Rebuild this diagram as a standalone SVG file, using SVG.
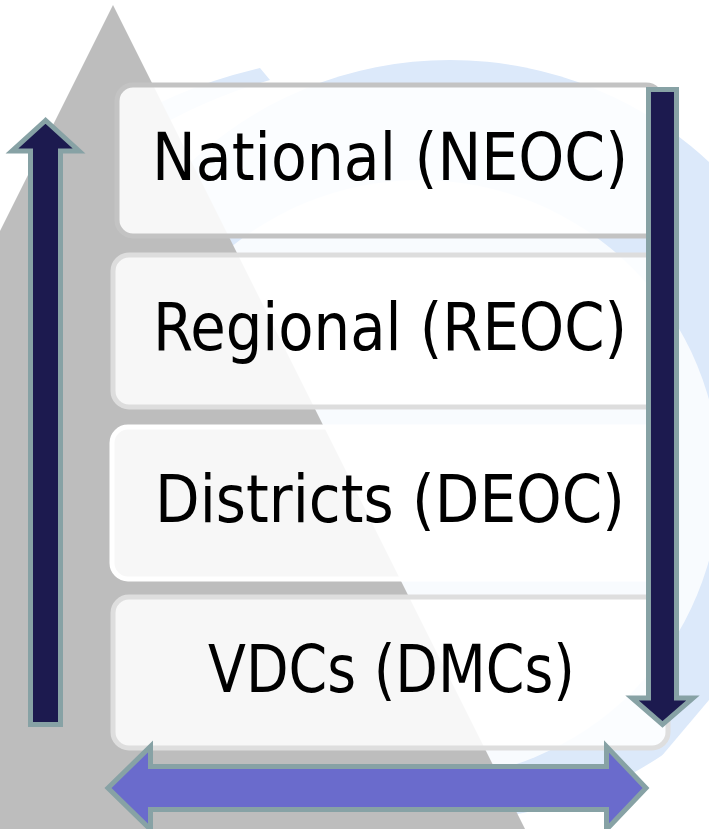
<svg xmlns="http://www.w3.org/2000/svg" width="709" height="829" viewBox="0 0 709 829">
  <style>
    .box { fill: #ffffff; fill-opacity: 0.88; stroke-width: 5; }
    .lbl { font-family: "DejaVu Sans Condensed", "DejaVu Sans", sans-serif; font-stretch: condensed; font-size: 65px; fill: #000000; }
    .vert { fill: #1c1a4f; stroke: #87a2a5; stroke-width: 5; stroke-linejoin: miter; }
    .horiz { fill: #6a6bcc; stroke: #87a2a5; stroke-width: 5; stroke-linejoin: miter; }
  </style>
  <rect x="0" y="0" width="709" height="829" fill="#ffffff"/>
  <g id="background">
    <circle cx="450" cy="440" r="380" fill="#dce9fa"/>
    <circle cx="420" cy="480" r="300" fill="#ffffff" fill-opacity="0.8"/>
    <path d="M0,250 Q80,110 260,68 L270,80 Q100,130 0,270 Z" fill="#dce9fa"/>
    <polygon points="600,829 709,700 709,760 650,829" fill="#ffffff"/>
    <polygon points="113,5 525,829 0,829 0,231" fill="#bdbdbd"/>
  </g>
  <g id="node-national">
    <rect class="box" x="117" y="85" width="545" height="151" rx="16" stroke="#c3c3c3"/>
    <text class="lbl" x="152" y="180" textLength="476" lengthAdjust="spacingAndGlyphs">National (NEOC)</text>
  </g>
  <g id="node-regional">
    <rect class="box" x="113" y="255" width="550" height="152" rx="16" stroke="#dddddd"/>
    <text class="lbl" x="153" y="350" textLength="474" lengthAdjust="spacingAndGlyphs">Regional (REOC)</text>
  </g>
  <g id="node-districts">
    <rect class="box" x="112" y="427" width="552" height="152" rx="16" stroke="#ffffff"/>
    <text class="lbl" x="155" y="522" textLength="470" lengthAdjust="spacingAndGlyphs">Districts (DEOC)</text>
  </g>
  <g id="node-vdcs">
    <rect class="box" x="113" y="597" width="555" height="151" rx="16" stroke="#dedede"/>
    <text class="lbl" x="208" y="692" textLength="367" lengthAdjust="spacingAndGlyphs">VDCs (DMCs)</text>
  </g>
  <g id="connectors">
    <polygon class="vert" points="45.5,120.5 12,151 30.5,151 30.5,724.5 60.5,724.5 60.5,151 79,151"/>
    <polygon class="vert" points="648.5,89.5 676.5,89.5 676.5,698 693,698 662.5,724.5 632,698 648.5,698"/>
    <polygon class="horiz" points="108,788 150.5,746.5 150.5,766.5 606.5,766.5 606.5,746.5 646,788 606.5,829.5 606.5,809.5 150.5,809.5 150.5,829.5"/>
  </g>
</svg>
